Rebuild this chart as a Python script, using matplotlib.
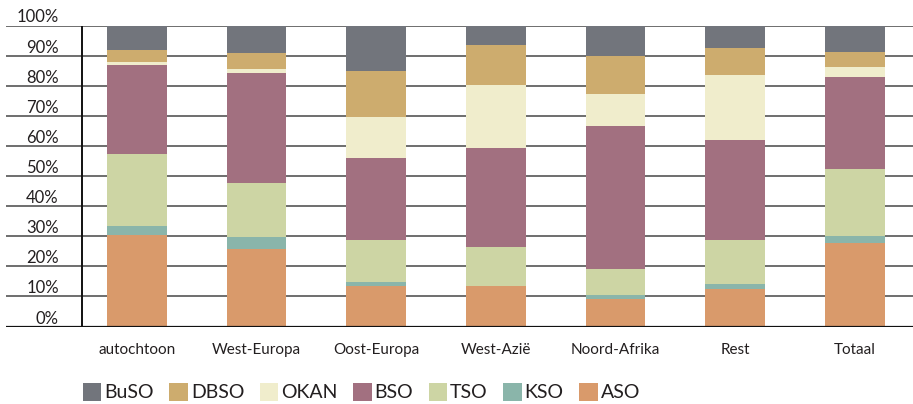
import matplotlib
matplotlib.use("Agg")
import matplotlib.pyplot as plt
import numpy as np

plt.rcParams['font.family'] = ['Lato', 'DejaVu Sans']

# categorieen en aandelen per onderwijsvorm (in %)
categories = ["autochtoon", "West-Europa", "Oost-Europa", "West-Azië",
              "Noord-Afrika", "Rest", "Totaal"]
series_names = ["ASO", "KSO", "TSO", "BSO", "OKAN", "DBSO", "BuSO"]

aso = [30.3, 25.7, 13.6, 13.6, 9.2, 12.5, 27.8]
kso = [3.1, 4.1, 1.2, 0.0, 1.1, 1.7, 2.3]
tso = [24.0, 17.9, 14.0, 12.9, 8.9, 14.6, 22.3]
bso = [29.5, 36.4, 27.2, 32.9, 47.5, 33.2, 30.5]
okan = [1.0, 1.5, 13.7, 20.9, 10.6, 21.6, 3.3]
dbso = [4.0, 5.3, 15.2, 13.3, 12.6, 9.0, 5.1]
buso = [8.1, 9.1, 15.1, 6.4, 10.1, 7.4, 8.7]

colors = {"ASO": "#d99a6b", "KSO": "#8ab5aa", "TSO": "#cdd5a4", "BSO": "#a27080",
          "OKAN": "#f0edcc", "DBSO": "#cdac6e", "BuSO": "#72757c"}

data = [aso, kso, tso, bso, okan, dbso, buso]
txt = "#231f20"

fig = plt.figure(figsize=(9.13, 4.04), dpi=100)
ax = fig.add_axes([6 / 913, 77.5 / 404, 907 / 913, 301 / 404])

x = np.arange(len(categories))
bottom = np.zeros(len(categories))
handles = {}
for name, vals in zip(series_names, data):
    b = ax.bar(x, vals, width=0.5, bottom=bottom, color=colors[name], zorder=3)
    handles[name] = b
    bottom += np.array(vals)

ax.set_xlim(-1.095, 6.488)
ax.set_ylim(0, 100)

# gridlines
ax.set_yticks(np.arange(0, 101, 10))
ax.yaxis.grid(True, color="#6e6e6e", lw=1.4, zorder=1)
ax.axhline(0, color="#111111", lw=1.6, zorder=4)
ax.plot([-0.46, -0.46], [0, 100], color="#111111", lw=1.4, zorder=4)

for s in ax.spines.values():
    s.set_visible(False)

ax.set_yticklabels([f"{v}%" for v in range(0, 101, 10)], fontsize=12, color=txt)
ax.tick_params(axis="y", length=0, pad=-38)
for lab in ax.get_yticklabels():
    lab.set_verticalalignment("bottom")
    lab.set_horizontalalignment("right")

ax.set_xticks(x)
ax.set_xticklabels(categories, fontsize=11, color=txt)
ax.tick_params(axis="x", length=0, pad=12)

# legend, top series first
order = ["BuSO", "DBSO", "OKAN", "BSO", "TSO", "KSO", "ASO"]
fig.legend([handles[n] for n in order], order, loc="center left",
           bbox_to_anchor=(83 / 913, 1 - 392 / 404), ncol=7, frameon=False,
           fontsize=14, handlelength=0.95, handleheight=1.05, handletextpad=0.15,
           columnspacing=0.8, borderpad=0, borderaxespad=0, labelcolor=txt)

fig.savefig("out.png", dpi=100)
